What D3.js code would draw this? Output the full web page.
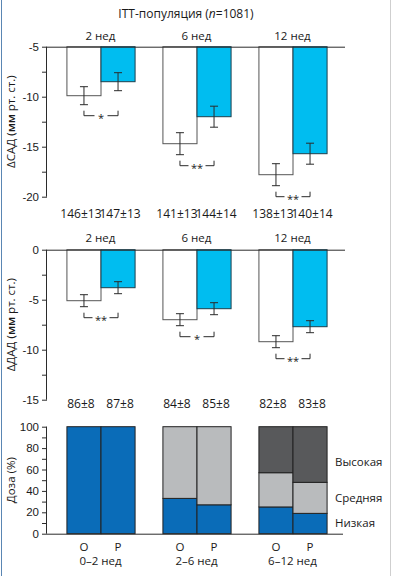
<!DOCTYPE html>
<html>
<head>
<meta charset="utf-8">
<script src="https://cdn.jsdelivr.net/npm/d3@7"></script>
<style>
  body { margin: 0; background: #fff; }
  svg { display: block; font-family: "Open Sans", "Noto Sans", sans-serif; }
  .lbl { font-size: 11.5px; fill: #1a1a1a; }
  .tick text { font-size: 11.5px; fill: #1a1a1a; }
</style>
</head>
<body>
<svg id="chart"></svg>
<script>
let width = 395;
let height = 576;

// weeks and arms
let weeks = ['2 нед', '6 нед', '12 нед'];
let arms = ['О', 'Р'];

// change of systolic pressure
let sbpO = [-9.9, -14.7, -17.8];
let sbpP = [-8.5, -12.0, -15.7];
let sbpErrO = [0.9, 1.1, 1.1];
let sbpErrP = [0.9, 1.05, 1.05];
let sbpSig = ['*', '**', '**'];
let sbpBase = ['146±13', '147±13', '141±13', '144±14', '138±13', '140±14'];
let sbpTicks = [-5, -10, -15, -20];

// change of diastolic pressure
let dbpO = [-5.1, -7.0, -9.2];
let dbpP = [-3.8, -5.9, -7.7];
let dbpErrO = [0.6, 0.6, 0.6];
let dbpErrP = [0.6, 0.6, 0.6];
let dbpSig = ['**', '*', '**'];
let dbpBase = ['86±8', '87±8', '84±8', '85±8', '82±8', '83±8'];
let dbpTicks = [0, -5, -10, -15];

// dose distribution (%)
let periods = ['0–2 нед', '2–6 нед', '6–12 нед'];
let doseLevels = ['Низкая', 'Средняя', 'Высокая'];
let doseLowO = [100, 33, 25];
let doseLowP = [100, 27, 19];
let doseMidO = [0, 67, 32];
let doseMidP = [0, 73, 29];
let doseHighO = [0, 0, 43];
let doseHighP = [0, 0, 52];
let doseTicks = [0, 20, 40, 60, 80, 100];

let colors = { O: '#ffffff', P: '#00bdf0' };
let doseColors = ['#0a6cb8', '#b9bbbd', '#58595b'];
let ink = '#2b2b2b';

let svg = d3.select('#chart').attr('width', width).attr('height', height);

// window frame
svg.append('line').attr('x1', 1.5).attr('x2', 1.5).attr('y1', 0).attr('y2', height)
    .attr('stroke', '#5a86b3').attr('stroke-width', 1);
svg.append('line').attr('x1', 390.5).attr('x2', 390.5).attr('y1', 0).attr('y2', height)
    .attr('stroke', '#cfcfcf').attr('stroke-width', 1);

let axisLeftX = 47;
let axisRightX = 345;

let x0 = d3.scaleBand().domain(weeks).range([52.5, 340.5]).paddingInner(0.29).paddingOuter(0.145);
let x1 = d3.scaleBand().domain(arms).range([0, x0.bandwidth()]);

// title
svg.append('text').attr('class', 'lbl')
    .attr('x', 186).attr('y', 18).attr('text-anchor', 'middle')
    .style('font-size', '12px')
    .call(t => {
        t.append('tspan').text('ITT-популяция (');
        t.append('tspan').style('font-style', 'italic').text('n');
        t.append('tspan').text('=1081)');
    });

function yAxis(g, y, ticks, minor) {
    let all = d3.merge([ticks, minor]);
    let ax = d3.axisLeft(y).tickValues(all).tickSize(5).tickPadding(3)
        .tickFormat(d => ticks.includes(d) ? d : '');
    g.attr('transform', `translate(${axisLeftX},0)`).call(ax);
    g.select('.domain').attr('stroke', ink).attr('d', `M-0.5,${y.range()[0]}V${y.range()[1]}`);
    g.selectAll('.tick line').attr('stroke', ink);
}

function yTitle(y, parts) {
    let cy = (y.range()[0] + y.range()[1]) / 2;
    let t = svg.append('text').attr('class', 'lbl')
        .attr('transform', `translate(15,${cy}) rotate(-90)`)
        .attr('text-anchor', 'middle');
    parts.forEach(p => t.append('tspan').style('font-weight', p[1] ? '600' : 'normal').text(p[0]));
}

function changePanel(opts) {
    let y = d3.scaleLinear().domain(opts.domain).range(opts.range);
    let rows = weeks.map((w, i) => ({
        week: w,
        bars: [
            { arm: 'О', key: 'O', v: opts.o[i], e: opts.eo[i] },
            { arm: 'Р', key: 'P', v: opts.p[i], e: opts.ep[i] }
        ],
        sig: opts.sig[i]
    }));

    // group labels
    svg.append('g').selectAll('text').data(weeks).enter().append('text')
        .attr('class', 'lbl')
        .attr('x', d => x0(d) + x0.bandwidth() / 2)
        .attr('y', opts.labelY)
        .attr('text-anchor', 'middle')
        .text(d => d);

    let top = y(opts.domain[0]);
    let grp = svg.append('g').selectAll('g').data(rows).enter().append('g')
        .attr('transform', d => `translate(${x0(d.week)},0)`);

    grp.selectAll('rect').data(d => d.bars).enter().append('rect')
        .attr('x', d => x1(d.arm) + 0.5)
        .attr('y', top)
        .attr('width', x1.bandwidth())
        .attr('height', d => y(d.v) - top)
        .attr('fill', d => colors[d.key])
        .attr('stroke', d => d.key == 'P' ? '#1d3f4c' : '#555')
        .attr('stroke-width', 1);

    // error bars
    let eb = grp.selectAll('g.err').data(d => d.bars).enter().append('g').attr('class', 'err');
    let cx = d => x1(d.arm) + x1.bandwidth() / 2 + 0.5;
    eb.append('line').attr('x1', cx).attr('x2', cx)
        .attr('y1', d => y(d.v + d.e)).attr('y2', d => y(d.v - d.e));
    eb.append('line').attr('x1', d => cx(d) - 4).attr('x2', d => cx(d) + 4)
        .attr('y1', d => y(d.v + d.e)).attr('y2', d => y(d.v + d.e));
    eb.append('line').attr('x1', d => cx(d) - 4).attr('x2', d => cx(d) + 4)
        .attr('y1', d => y(d.v - d.e)).attr('y2', d => y(d.v - d.e));
    eb.selectAll('line').attr('stroke', ink).attr('stroke-width', 1);

    // significance brackets
    grp.each(function (d) {
        let g = d3.select(this);
        let a = cx(d.bars[0]), b = cx(d.bars[1]);
        let yt = y(d.bars[0].v - d.bars[0].e) + 6;
        let yb = yt + 5;
        let mid = (a + b) / 2;
        let gap = d.sig.length == 1 ? 6.5 : 8.5;
        g.append('path')
            .attr('d', `M${a},${yt}V${yb}H${mid - gap}M${mid + gap},${yb}H${b}V${yt}`)
            .attr('fill', 'none').attr('stroke', ink).attr('stroke-width', 1);
        g.append('text').attr('class', 'lbl')
            .attr('x', mid).attr('y', yb + 6)
            .attr('text-anchor', 'middle')
            .style('font-size', '11px')
            .text(d.sig);
    });

    // top line
    svg.append('line').attr('x1', axisLeftX).attr('x2', axisRightX)
        .attr('y1', top + 0.5).attr('y2', top + 0.5).attr('stroke', ink);

    let minor = d3.range(opts.ticks.length - 1).map(i => (opts.ticks[i] + opts.ticks[i + 1]) / 2);
    svg.append('g').call(yAxis, y, opts.ticks, minor);
    yTitle(y, opts.title);

    // baseline values under the panel
    let flat = [];
    weeks.forEach(w => arms.forEach(a => flat.push({ w: w, a: a })));
    svg.append('g').selectAll('text').data(opts.base).enter().append('text')
        .attr('class', 'lbl')
        .style('font-size', '12px')
        .attr('x', (d, i) => x0(flat[i].w) + x1(flat[i].a) + x1.bandwidth() / 2 + (flat[i].a == 'О' ? -2.5 : 2.5))
        .attr('y', opts.baseY)
        .attr('text-anchor', 'middle')
        .text(d => d);
}

changePanel({
    domain: [-5, -20], range: [46.7, 196.7], ticks: sbpTicks,
    o: sbpO, p: sbpP, eo: sbpErrO, ep: sbpErrP, sig: sbpSig,
    base: sbpBase, baseY: 218, labelY: 40,
    title: [['ΔСАД ', false], ['(мм', true], [' рт. ст.)', false]]
});

changePanel({
    domain: [0, -15], range: [249.7, 399.7], ticks: dbpTicks,
    o: dbpO, p: dbpP, eo: dbpErrO, ep: dbpErrP, sig: dbpSig,
    base: dbpBase, baseY: 408, labelY: 242,
    title: [['ΔДАД ', false], ['(мм', true], [' рт. ст.)', false]]
});

// dose panel
let yd = d3.scaleLinear().domain([0, 100]).range([533.7, 426.7]);
let xd = d3.scaleBand().domain(periods).range(x0.range()).paddingInner(0.29).paddingOuter(0.145);

let doseRows = [];
periods.forEach((p, i) => {
    doseRows.push({ period: p, arm: 'О', 'Низкая': doseLowO[i], 'Средняя': doseMidO[i], 'Высокая': doseHighO[i] });
    doseRows.push({ period: p, arm: 'Р', 'Низкая': doseLowP[i], 'Средняя': doseMidP[i], 'Высокая': doseHighP[i] });
});
let stacked = d3.stack().keys(doseLevels)(doseRows);

svg.append('g').selectAll('g').data(stacked).enter().append('g')
    .attr('fill', (d, i) => doseColors[i])
    .selectAll('rect').data(d => d.filter(s => s[1] > s[0])).enter().append('rect')
    .attr('x', d => xd(d.data.period) + x1(d.data.arm) + 0.5)
    .attr('y', d => yd(d[1]))
    .attr('width', x1.bandwidth())
    .attr('height', d => yd(d[0]) - yd(d[1]))
    .attr('stroke', '#222').attr('stroke-width', 1);

svg.append('line').attr('x1', axisLeftX).attr('x2', 343)
    .attr('y1', yd(0) + 0.5).attr('y2', yd(0) + 0.5).attr('stroke', ink);

let doseMinor = d3.range(doseTicks.length - 1).map(i => (doseTicks[i] + doseTicks[i + 1]) / 2);
svg.append('g').call(yAxis, yd, doseTicks, doseMinor);
yTitle(yd, [['Доза (%)', false]]);

// arm and period labels
svg.append('g').selectAll('text').data(doseRows).enter().append('text')
    .attr('class', 'lbl')
    .attr('x', d => xd(d.period) + x1(d.arm) + x1.bandwidth() / 2 + 0.5)
    .attr('y', 551).attr('text-anchor', 'middle')
    .text(d => d.arm);
svg.append('g').selectAll('text').data(periods).enter().append('text')
    .attr('class', 'lbl')
    .attr('x', d => xd(d) + xd.bandwidth() / 2)
    .attr('y', 565).attr('text-anchor', 'middle')
    .text(d => d);

// legend labels beside last bars
let legendY = { 'Высокая': 466, 'Средняя': 502, 'Низкая': 527 };
svg.append('g').selectAll('text').data(doseLevels).enter().append('text')
    .attr('class', 'lbl')
    .attr('x', 335).attr('y', d => legendY[d])
    .text(d => d);
</script>
</body>
</html>
